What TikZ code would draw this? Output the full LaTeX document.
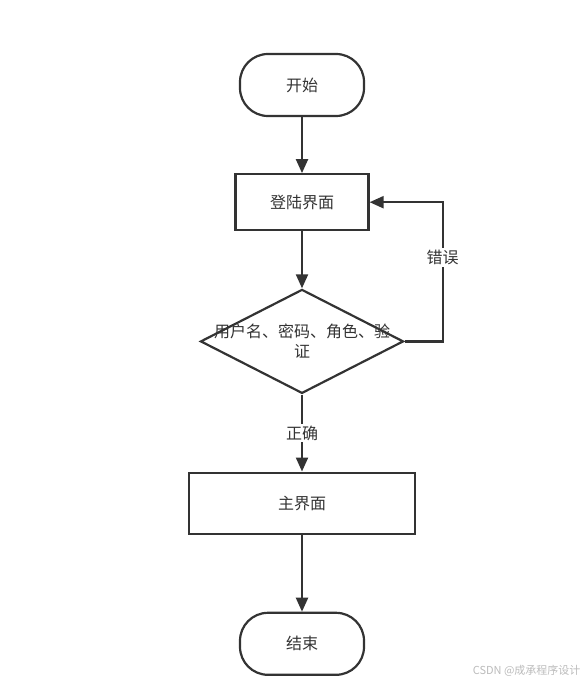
\documentclass[tikz,border=0pt]{standalone}
\usepackage{fontspec}
\setmainfont{Noto Sans CJK SC}
\usepackage{xcolor}
\usepackage{tikz}
\usetikzlibrary{shapes.geometric,arrows.meta,positioning}

\definecolor{ink}{HTML}{333333}
\definecolor{mark}{HTML}{BBBBBB}

\begin{document}
\begin{tikzpicture}[
    x=1pt, y=1pt,
    font=\fontsize{16pt}{20pt}\selectfont, text=ink,
    terminal/.style={rectangle, draw=ink, line width=2.2pt, rounded corners=28pt, minimum width=124pt, minimum height=62pt},
    box/.style={rectangle, draw=ink, line width=2.2pt, minimum height=56pt, align=center},
    decision/.style={diamond, draw=ink, line width=2.2pt, minimum width=203pt, minimum height=104pt, inner sep=0pt},
    arrow/.style={-{Triangle[length=14pt,width=12pt]}, draw=ink, line width=2.2pt},
    tag/.style={fill=white, inner sep=2pt}
]
    \useasboundingbox (0,0) rectangle (587,-684);

    % Nodes
    \node[terminal] (start) at (302,-85) {开始};
    \node[box, minimum width=133pt, below=56pt of start] (login) {登陆界面};
    \node[decision, below=57pt of login] (check) {};
    \node[align=center] (checktext) at (check) {用户名、密码、角色、验\\证};
    \node[box, minimum width=226pt, minimum height=61pt, below=77pt of check] (main) {主界面};
    \node[terminal, below=77pt of main] (end) {结束};

    % Watermark
    \node[anchor=east, text=mark, font=\fontsize{11pt}{13pt}\selectfont] (wm) at (584,-671) {CSDN @成承程序设计};

    % Arrows
    \draw[arrow] (start) -- (login);
    \draw[arrow] (login) -- (check);
    \draw[arrow] (check) -- (main) node[midway, tag] {正确};
    \draw[arrow] (check.east) -- ++(38,0) |- (login.east) node[pos=0.3, tag] {错误};
    \draw[arrow] (main) -- (end);

\end{tikzpicture}
\end{document}
